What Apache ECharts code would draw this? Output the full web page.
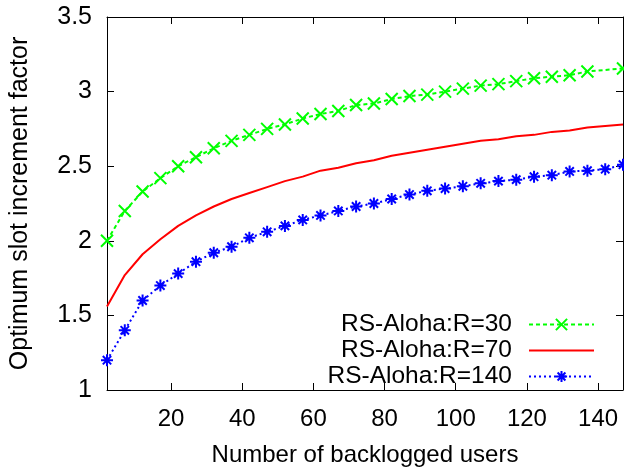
<!DOCTYPE html>
<html>
<head>
<meta charset="utf-8">
<script src="https://cdn.jsdelivr.net/npm/echarts@6/dist/echarts.min.js"></script>
<style>html,body{margin:0;padding:0;background:#fff}#c{width:624px;height:472px}</style>
</head>
<body>
<div id="c"></div>
<script>
const xR30 = [2,7,12,17,22,27,32,37,42,47,52,57,62,67,72,77,82,87,92,97,102,107,112,117,122,127,132,137,147];
const yR30 = [2.00,2.20,2.33,2.42,2.50,2.56,2.62,2.67,2.71,2.75,2.78,2.82,2.85,2.87,2.91,2.92,2.95,2.97,2.98,3.00,3.02,3.04,3.05,3.07,3.09,3.10,3.11,3.135,3.155];
const xR70 = [2,7,12,17,22,27,32,37,42,47,52,57,62,67,72,77,82,87,92,97,102,107,112,117,122,127,132,137,142,147];
const yR70 = [1.56,1.77,1.91,2.01,2.10,2.17,2.23,2.28,2.32,2.36,2.40,2.43,2.47,2.49,2.52,2.54,2.57,2.59,2.61,2.63,2.65,2.67,2.68,2.70,2.71,2.73,2.74,2.76,2.77,2.78];
const xR140 = [2,7,12,17,22,27,32,37,42,47,52,57,62,67,72,77,82,87,92,97,102,107,112,117,122,127,132,137,142,147];
const yR140 = [1.20,1.40,1.60,1.70,1.78,1.86,1.92,1.96,2.02,2.06,2.10,2.14,2.17,2.20,2.23,2.25,2.28,2.31,2.335,2.35,2.365,2.385,2.40,2.41,2.43,2.44,2.465,2.47,2.48,2.51];
const xTicks = [20,40,60,80,100,120,140];
const seriesNames = ['RS-Aloha:R=30','RS-Aloha:R=70','RS-Aloha:R=140'];

const pair = (xs, ys) => xs.map((x, i) => [x, ys[i]]);
const FONT = 'Liberation Sans';
const X_SYM = 'path://M0,0L10,10M10,0L0,10';
const STAR_SYM = 'path://M5,0L5,10M0,5L10,5M1.5,1.5L8.5,8.5M8.5,1.5L1.5,8.5';

const chart = echarts.init(document.getElementById('c'), null, {renderer: 'canvas'});
const axisLine = {show: true, onZero: false, lineStyle: {color: '#000', width: 1}};
chart.setOption({
  animation: false,
  backgroundColor: '#fff',
  grid: {left: 107, right: 1, top: 17, bottom: 80, containLabel: false},
  legend: {
    orient: 'vertical', right: 29, top: 312, align: 'right', padding: 0,
    itemWidth: 65, itemHeight: 14, itemGap: 1,
    textStyle: {fontFamily: FONT, fontSize: 24.5, color: '#000', padding: [0, 12, 0, 0]},
    data: [
      {name: seriesNames[0]},
      {name: seriesNames[1], itemStyle: {opacity: 0}},
      {name: seriesNames[2]}
    ]
  },
  xAxis: [{
    type: 'value', min: 2, max: 147,
    name: 'Number of backlogged users', nameLocation: 'middle', nameGap: 53,
    nameTextStyle: {fontFamily: FONT, fontSize: 24, color: '#000'},
    axisLine,
    axisTick: {show: true, inside: true, length: 7, customValues: xTicks, lineStyle: {color: '#000'}},
    axisLabel: {customValues: xTicks, margin: 17, fontFamily: FONT, fontSize: 24, color: '#000'},
    splitLine: {show: false}
  }, {
    type: 'value', min: 2, max: 147, position: 'top',
    axisLine,
    axisTick: {show: true, inside: true, length: 7, customValues: xTicks, lineStyle: {color: '#000'}},
    axisLabel: {show: false},
    splitLine: {show: false}
  }],
  yAxis: [{
    type: 'value', min: 1, max: 3.5, interval: 0.5,
    name: 'Optimum slot increment factor', nameLocation: 'middle', nameGap: 74,
    nameTextStyle: {fontFamily: FONT, fontSize: 25, color: '#000'},
    axisLine,
    axisTick: {show: true, inside: true, length: 7, lineStyle: {color: '#000'}},
    axisLabel: {margin: 15, fontFamily: FONT, fontSize: 25, color: '#000'},
    splitLine: {show: false}
  }, {
    type: 'value', min: 1, max: 3.5, interval: 0.5, position: 'right',
    axisLine,
    axisTick: {show: true, inside: true, length: 7, lineStyle: {color: '#000'}},
    axisLabel: {show: false},
    splitLine: {show: false}
  }],
  series: [{
    name: seriesNames[0], type: 'line', data: pair(xR30, yR30),
    symbol: X_SYM, symbolSize: 12, showAllSymbol: true,
    lineStyle: {color: '#00ff00', width: 2, type: [4, 3]},
    itemStyle: {color: '#00ff00', borderColor: '#00ff00', borderWidth: 2}
  }, {
    name: seriesNames[1], type: 'line', data: pair(xR70, yR70),
    symbol: 'none',
    lineStyle: {color: '#ff0000', width: 2, type: 'solid'},
    itemStyle: {color: '#ff0000'}
  }, {
    name: seriesNames[2], type: 'line', data: pair(xR140, yR140),
    symbol: STAR_SYM, symbolSize: 12, showAllSymbol: true,
    lineStyle: {color: '#0000ff', width: 2, type: [2, 3]},
    itemStyle: {color: '#0000ff', borderColor: '#0000ff', borderWidth: 2}
  }]
});
</script>
</body>
</html>
